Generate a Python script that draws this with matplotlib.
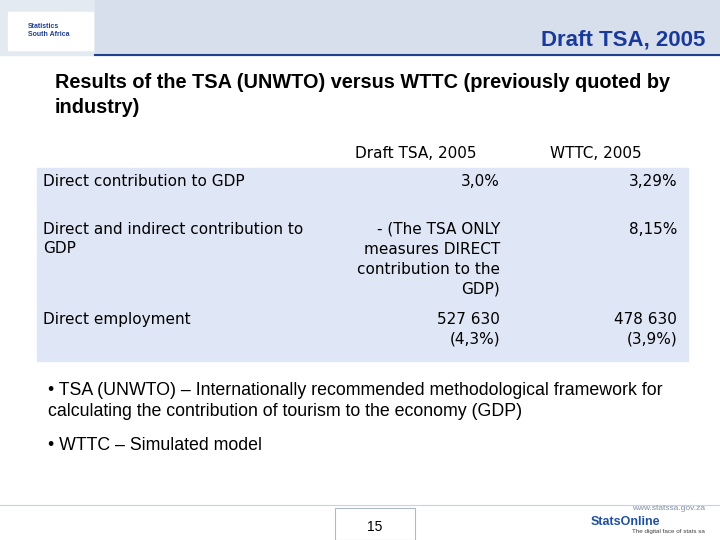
import matplotlib.pyplot as plt
from matplotlib.patches import Rectangle

plt.rcParams['font.family'] = ['Liberation Sans', 'DejaVu Sans']

# table data
columns = ["Draft TSA, 2005", "WTTC, 2005"]
rows = ["Direct contribution to GDP",
        "Direct and indirect contribution to\nGDP",
        "Direct employment"]
tsa_values = ["3,0%",
              "- (The TSA ONLY\nmeasures DIRECT\ncontribution to the\nGDP)",
              "527 630\n(4,3%)"]
wttc_values = ["3,29%", "8,15%", "478 630\n(3,9%)"]
row_y = [174, 222, 312]

bullets = ["• TSA (UNWTO) – Internationally recommended methodological framework for\ncalculating the contribution of tourism to the economy (GDP)",
           "• WTTC – Simulated model"]

fig = plt.figure(figsize=(7.2, 5.4), dpi=100)
ax = fig.add_axes([0, 0, 1, 1])
ax.set_xlim(0, 720)
ax.set_ylim(540, 0)
ax.axis("off")

# header band
ax.add_patch(Rectangle((0, 0), 720, 55, color="#e4eaf2", zorder=0))
ax.add_patch(Rectangle((95, 0), 625, 55, color="#d6dfeb", zorder=0))
ax.plot([95, 720], [55, 55], color="#1f3f8f", lw=1.5)
ax.add_patch(Rectangle((8, 12), 85, 38, color="white", zorder=1))
ax.text(28, 30, "Statistics\nSouth Africa", fontsize=5, color="#1f3f8f", va="center", weight="bold")
ax.text(705, 40, "Draft TSA, 2005", fontsize=16, color="#1a3a9a", weight="bold", ha="right", va="center")

ax.text(55, 95, "Results of the TSA (UNWTO) versus WTTC (previously quoted by\nindustry)",
        fontsize=14.3, weight="bold", va="center", linespacing=1.4)

# table
ax.add_patch(Rectangle((37, 168), 651, 193, color="#dfe6f5", zorder=0))
ax.text(416, 154, columns[0], fontsize=11, ha="center", va="center", family="DejaVu Sans")
ax.text(596, 154, columns[1], fontsize=11, ha="center", va="center", family="DejaVu Sans")
for y, r, a, b in zip(row_y, rows, tsa_values, wttc_values):
    ax.text(43, y, r, fontsize=11, va="top", linespacing=1.3, family="DejaVu Sans")
    ax.text(500, y, a, fontsize=11, va="top", ha="right", linespacing=1.4, family="DejaVu Sans")
    ax.text(677, y, b, fontsize=11, va="top", ha="right", linespacing=1.4, family="DejaVu Sans")

ax.text(48, 401, bullets[0], fontsize=12.8, va="center", linespacing=1.35)
ax.text(48, 445, bullets[1], fontsize=12.8, va="center")

# footer
ax.plot([0, 720], [505, 505], color="#c8d2e0", lw=0.8)
ax.add_patch(Rectangle((335, 508), 80, 32, color="white", ec="#b0b8c8", lw=0.8))
ax.text(375, 527, "15", fontsize=10, ha="center", va="center")
ax.text(705, 508, "www.statssa.gov.za", fontsize=6, color="#8090a8", ha="right", va="center")
ax.text(660, 522, "StatsOnline", fontsize=9, color="#2050a0", weight="bold", ha="right", va="center")
ax.text(705, 531, "The digital face of stats sa", fontsize=4.5, color="#404040", ha="right", va="center")

fig.savefig("out.png", dpi=100)
